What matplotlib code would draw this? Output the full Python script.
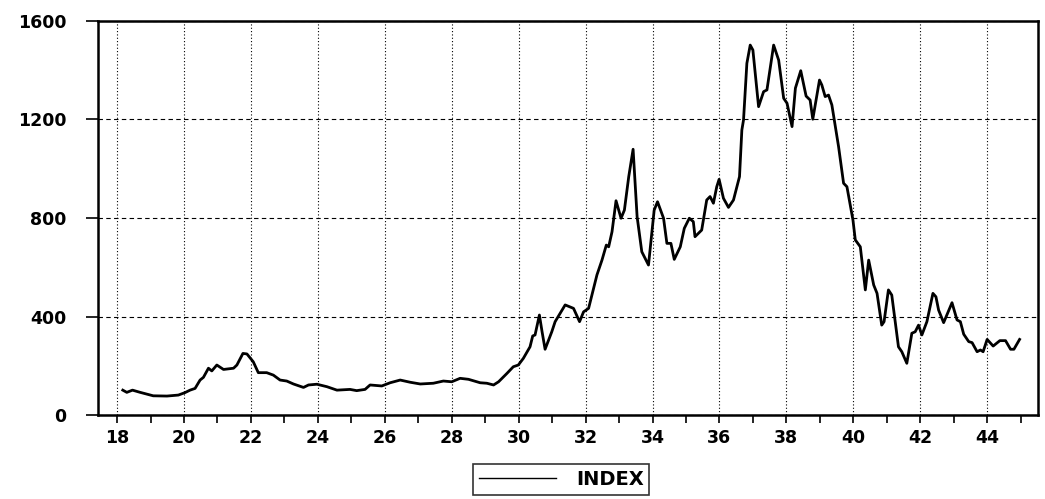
import matplotlib.pyplot as plt
from matplotlib.ticker import MultipleLocator

# year (19xx, decimal) and index level
year = [18.17, 18.29, 18.46, 18.69, 19.08, 19.49, 19.83, 20.03, 20.18, 20.33,
        20.48, 20.58, 20.73, 20.83, 20.98, 21.18, 21.48, 21.58, 21.76, 21.88,
        22.07, 22.22, 22.47, 22.67, 22.87, 23.07, 23.27, 23.57, 23.72, 23.97,
        24.27, 24.57, 24.96, 25.16, 25.41, 25.56, 25.91, 26.16, 26.46, 26.76,
        27.06, 27.45, 27.75, 28.0, 28.25, 28.5, 28.85, 29.05, 29.25, 29.4,
        29.65, 29.84, 29.99, 30.14, 30.34, 30.42, 30.49, 30.62, 30.70, 30.79,
        30.99, 31.09, 31.24, 31.39, 31.64, 31.82, 31.94, 32.09, 32.34, 32.49,
        32.62, 32.69, 32.79, 32.91, 33.06, 33.16, 33.29, 33.42, 33.54, 33.68,
        33.88, 34.05, 34.15, 34.33, 34.43, 34.55, 34.65, 34.83, 34.95, 35.10,
        35.22, 35.27, 35.47, 35.62, 35.72, 35.82, 35.92, 35.99, 36.12, 36.27,
        36.42, 36.60, 36.67, 36.72, 36.82, 36.92, 37.0, 37.17, 37.32, 37.42,
        37.62, 37.77, 37.92, 38.02, 38.17, 38.27, 38.43, 38.59, 38.71, 38.79,
        38.99, 39.06, 39.16, 39.26, 39.36, 39.56, 39.71, 39.81, 39.99, 40.06,
        40.21, 40.36, 40.46, 40.61, 40.71, 40.85, 40.92, 41.05, 41.15, 41.35,
        41.45, 41.60, 41.75, 41.85, 41.95, 42.05, 42.20, 42.38, 42.47, 42.55,
        42.70, 42.95, 43.10, 43.20, 43.30, 43.45, 43.55, 43.70, 43.80, 43.88,
        44.00, 44.18, 44.38, 44.55, 44.70, 44.80, 44.97]
index = [101, 92, 101, 92, 78, 77, 81, 91, 101, 108,
         142, 153, 190, 179, 203, 185, 190, 203, 250, 248,
         216, 172, 172, 162, 142, 138, 126, 112, 122, 125,
         115, 101, 104, 99, 104, 122, 118, 131, 142, 133,
         126, 129, 138, 135, 149, 145, 131, 129, 122, 135,
         169, 196, 203, 230, 277, 321, 325, 406, 338, 267,
         338, 379, 413, 447, 433, 379, 419, 433, 569, 629,
         690, 683, 744, 870, 799, 832, 968, 1079, 805, 663,
         609, 832, 866, 799, 697, 697, 632, 683, 758, 799,
         785, 724, 751, 873, 887, 860, 927, 957, 880, 843,
         873, 968, 1157, 1198, 1428, 1502, 1482, 1252, 1313, 1320,
         1502, 1441, 1286, 1266, 1171, 1327, 1398, 1295, 1279, 1201,
         1360, 1340, 1293, 1299, 1259, 1090, 941, 927, 792, 711,
         683, 508, 629, 528, 494, 365, 379, 508, 487, 277,
         257, 210, 332, 338, 365, 325, 379, 494, 480, 426,
         375, 456, 386, 379, 328, 298, 294, 257, 264, 257,
         307, 280, 302, 302, 267, 267, 307]

fig = plt.figure(figsize=(10.45, 4.99), dpi=100)
ax = fig.add_axes([0.0938, 0.1683, 0.8995, 0.7897])

ax.plot(year, index, color='black', linewidth=2.0, label='INDEX')

ax.set_xlim(17.43, 45.52)
ax.set_ylim(0, 1600)
ax.xaxis.set_major_locator(MultipleLocator(2))
ax.xaxis.set_minor_locator(MultipleLocator(1))
ax.yaxis.set_major_locator(MultipleLocator(400))

ax.grid(True, axis='x', which='major', linestyle=(0, (1, 2)), color='black', linewidth=0.8)
ax.grid(True, axis='y', which='major', linestyle=(0, (4, 3)), color='black', linewidth=0.8)

for s in ax.spines.values():
    s.set_linewidth(1.8)

ax.tick_params(axis='y', direction='out', length=9, width=1.2, pad=14,
               labelsize=12.5)
ax.tick_params(axis='x', which='major', direction='out', length=6, width=1.2,
               pad=4, labelsize=12.5)
ax.tick_params(axis='x', which='minor', direction='out', length=6, width=1.2)
for lab in ax.get_xticklabels() + ax.get_yticklabels():
    lab.set_fontweight('bold')

leg = fig.legend(loc='lower center', bbox_to_anchor=(0.537, 0.0),
                 fancybox=False, edgecolor='black', handlelength=4.0,
                 handletextpad=1.0, borderpad=0.3, borderaxespad=0.2,
                 prop={'weight': 'bold', 'size': 14})
leg.get_frame().set_linewidth(1.2)
leg.get_lines()[0].set_linewidth(1.0)

fig.savefig('out.png', dpi=100)
